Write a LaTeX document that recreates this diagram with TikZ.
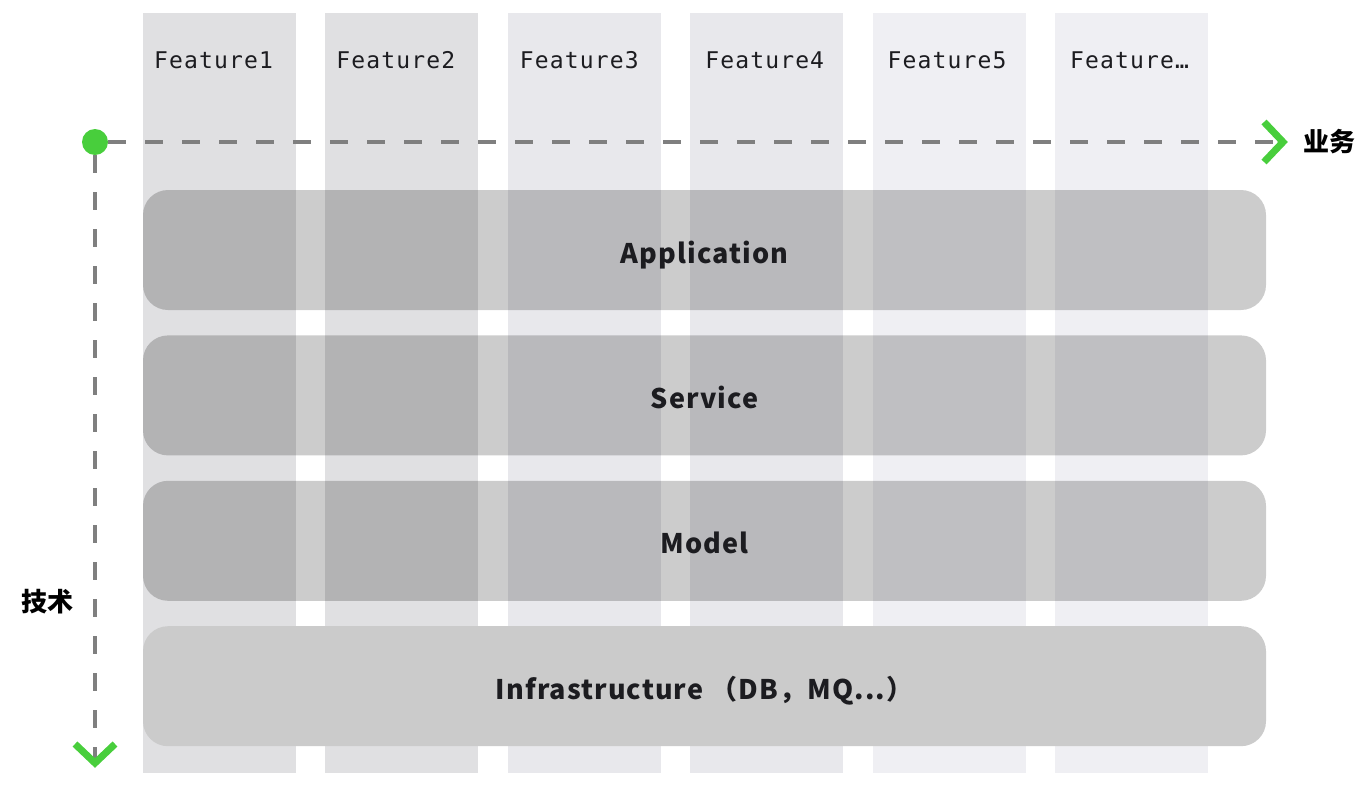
\documentclass[tikz,border=0pt]{standalone}
\usepackage{fontspec}
\newfontfamily\cjk{Noto Sans CJK SC}
\newfontfamily\layerfont{Noto Sans CJK SC}[LetterSpace=4]
\newfontfamily\featfont{DejaVu Sans Mono}[LetterSpace=5]
\usetikzlibrary{positioning}
\definecolor{colA}{HTML}{E0E0E2}
\definecolor{colB}{HTML}{E8E8EC}
\definecolor{colC}{HTML}{EFEFF3}
\definecolor{axisgray}{HTML}{7F7F7F}
\definecolor{axisgreen}{HTML}{48CE3C}
\definecolor{inkdark}{HTML}{1C1C20}
\definecolor{infragray}{HTML}{CBCBCB}
\begin{document}
\begin{tikzpicture}[
        x=1pt, y=-1pt,
        column/.style={rectangle, minimum width=153pt, minimum height=760pt, inner sep=0pt, anchor=north},
        feature/.style={font=\featfont\fontsize{23}{23}\selectfont, text=inkdark, anchor=base},
        layer/.style={rectangle, rounded corners=25pt, minimum width=1123pt, minimum height=120pt, fill=black, fill opacity=0.2, text opacity=1, text=inkdark, font=\layerfont\bfseries\fontsize{27}{27}\selectfont, text height=26pt, text depth=0pt},
        dot/.style={circle, fill=axisgreen, minimum size=26pt, inner sep=0pt},
        axis/.style={draw=axisgray, line width=4pt, dash pattern=on 18pt off 19pt},
        chevron/.style={draw=axisgreen, line width=7pt, miter limit=10},
        axislabel/.style={font=\cjk\bfseries\fontsize{26}{26}\selectfont, text=black, inner sep=0pt},
        node distance=29pt
    ]
    \useasboundingbox (0,0) rectangle (1372,790);

    % Feature columns
    \node[column, fill=colA] (col1) at (219.5,13) {};
    \node[column, fill=colA, right=of col1] (col2) {};
    \node[column, fill=colB, right=of col2] (col3) {};
    \node[column, fill=colB, right=of col3] (col4) {};
    \node[column, fill=colC, right=of col4] (col5) {};
    \node[column, fill=colC, right=of col5] (col6) {};

    \node[feature] (f1) at ([xshift=-6pt,yshift=-55pt]col1.north) {Feature1};
    \node[feature] (f2) at ([xshift=-6pt,yshift=-55pt]col2.north) {Feature2};
    \node[feature] (f3) at ([xshift=-5pt,yshift=-55pt]col3.north) {Feature3};
    \node[feature] (f4) at ([xshift=-2pt,yshift=-55pt]col4.north) {Feature4};
    \node[feature] (f5) at ([xshift=-2pt,yshift=-55pt]col5.north) {Feature5};
    \node[feature] (f6) at ([xshift=-2pt,yshift=-55pt]col6.north) {Feature…};

    % Layers
    \node[layer] (app) at (704.5,250) {Application};
    \node[layer, below=25pt of app] (svc) {Service};
    \node[layer, below=25pt of svc] (model) {Model};
    \node[layer, fill=infragray, fill opacity=1, below=25pt of model] (infra) {Infrastructure （DB，MQ...）};

    % Axes
    \node[dot] (origin) at (95,142) {};
    \coordinate (bizend) at (1283,142);
    \coordinate (techend) at (95,763);

    \draw[axis] (origin) -- (bizend);
    \draw[axis] (origin) -- (techend);
    \draw[chevron] ([xshift=-19pt,yshift=20pt]bizend) -- (bizend) -- ([xshift=-19pt,yshift=-20pt]bizend);
    \draw[chevron] ([xshift=-20pt,yshift=19pt]techend) -- (techend) -- ([xshift=20pt,yshift=19pt]techend);

    \node[axislabel, right=20pt of bizend] (biz) {业务};
    \node[axislabel] (tech) at (47,602) {技术};

    \end{tikzpicture}
\end{document}
